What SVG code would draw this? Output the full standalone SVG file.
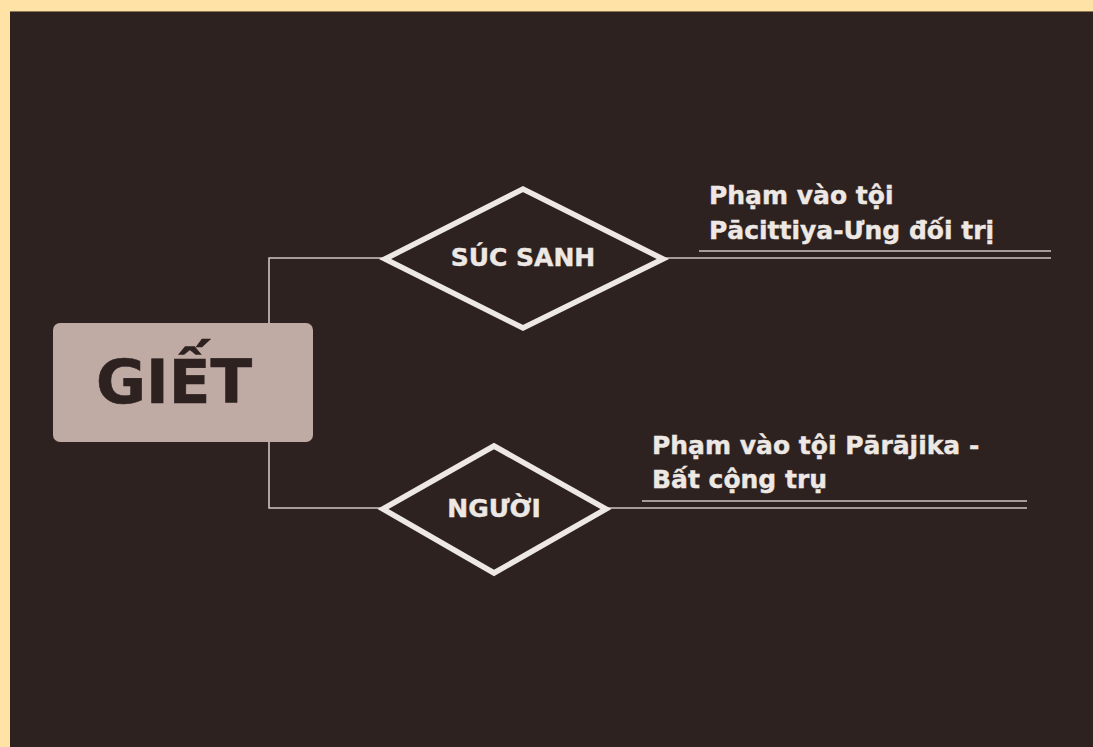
<svg xmlns="http://www.w3.org/2000/svg" width="1093" height="747" viewBox="0 0 1093 747">
<style>
.lbl{font-family:"DejaVu Sans",Verdana,sans-serif;font-weight:bold;fill:#EEE8E4;stroke:#EEE8E4;stroke-width:0.4;font-size:25px}
.dia{fill:none;stroke:#EEE8E4;stroke-width:5.5;stroke-linejoin:miter}
.con{fill:none;stroke:#CFC5C1;stroke-width:1.6}
</style>
<rect x="0" y="0" width="1093" height="747" fill="#FFE3A6"/>
<rect x="10" y="11" width="1083" height="736" fill="#2D2220"/>
<line x1="10" y1="11.5" x2="1093" y2="11.5" stroke="#8a7658" stroke-width="1"/>
<g id="connectors">
<path class="con" d="M383,258 H269 V323 M269,442 V508 H382"/>
<line class="con" x1="665" y1="258" x2="1051" y2="258"/>
<line class="con" x1="699" y1="251" x2="1051" y2="251"/>
<line class="con" x1="607" y1="508" x2="1027" y2="508"/>
<line class="con" x1="642" y1="501" x2="1027" y2="501"/>
</g>
<g id="giet">
<rect x="53" y="323" width="260" height="119" rx="7" fill="#BFAAA4"/>
<text x="174" y="403" text-anchor="middle" font-family="DejaVu Sans,Verdana,sans-serif" font-weight="bold" font-size="61" fill="#2D2220" stroke="#2D2220" stroke-width="0.6">GIẾT</text>
</g>
<g id="suc-sanh">
<polygon class="dia" points="385,259 523,189 663,259 523,328"/>
<text class="lbl" x="523" y="266" text-anchor="middle">SÚC SANH</text>
</g>
<g id="nguoi">
<polygon class="dia" points="383,509 494,446 606,509 494,573"/>
<text class="lbl" x="494" y="517" text-anchor="middle" font-size="26">NGƯỜI</text>
</g>
<g id="label-suc-sanh">
<text class="lbl" x="709" y="204">Phạm vào tội</text>
<text class="lbl" x="709" y="239">Pācittiya-Ưng đối trị</text>
</g>
<g id="label-nguoi">
<text class="lbl" x="652" y="454">Phạm vào tội Pārājika -</text>
<text class="lbl" x="652" y="488">Bất cộng trụ</text>
</g>
</svg>
